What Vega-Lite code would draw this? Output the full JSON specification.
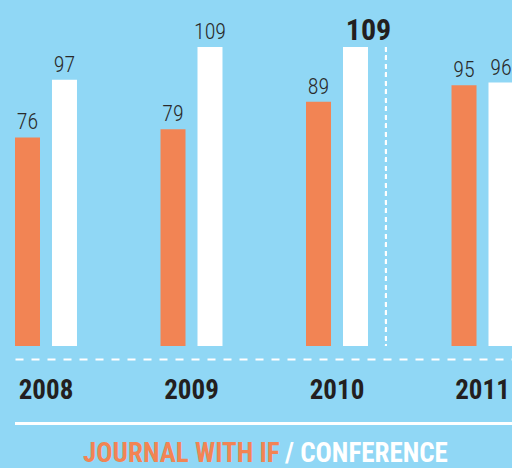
{
  "$schema": "https://vega.github.io/schema/vega-lite/v6.json",
  "width": 512,
  "height": 346,
  "autosize": "none",
  "padding": {"left": 0, "top": 0, "right": 0, "bottom": 122},
  "background": "#90d7f5",
  "config": {"view": {"stroke": null}, "font": "'Roboto Condensed', 'DejaVu Sans Condensed', sans-serif"},
  "data": {
    "values": [
      {"year": "2008", "type": "JOURNAL WITH IF", "value": 76},
      {"year": "2008", "type": "CONFERENCE", "value": 97},
      {"year": "2009", "type": "JOURNAL WITH IF", "value": 79},
      {"year": "2009", "type": "CONFERENCE", "value": 109},
      {"year": "2010", "type": "JOURNAL WITH IF", "value": 89},
      {"year": "2010", "type": "CONFERENCE", "value": 109},
      {"year": "2011", "type": "JOURNAL WITH IF", "value": 95},
      {"year": "2011", "type": "CONFERENCE", "value": 96}
    ]
  },
  "encoding": {
    "x": {
      "field": "year",
      "type": "ordinal",
      "scale": {"range": [15, 513.5], "paddingInner": 0.574, "paddingOuter": 0},
      "axis": {
        "title": null,
        "orient": "bottom",
        "offset": 13,
        "domainColor": "#ffffff",
        "domainDash": [8, 8],
        "domainWidth": 2,
        "ticks": false,
        "tickSize": 0,
        "labelPadding": 18,
        "labelAngle": 0,
        "labelFont": "'Roboto Condensed', 'DejaVu Sans Condensed', sans-serif",
        "labelFontSize": 27,
        "labelFontWeight": "bold",
        "labelColor": "#231f20"
      }
    }
  },
  "layer": [
    {
      "mark": {"type": "bar"},
      "encoding": {
        "xOffset": {
          "field": "type",
          "type": "nominal",
          "sort": ["JOURNAL WITH IF", "CONFERENCE"],
          "scale": {"paddingInner": 0.324, "paddingOuter": 0}
        },
        "y": {
          "field": "value",
          "type": "quantitative",
          "scale": {"domain": [0, 126.1], "nice": false, "zero": true},
          "axis": null
        },
        "color": {
          "field": "type",
          "type": "nominal",
          "sort": ["JOURNAL WITH IF", "CONFERENCE"],
          "scale": {"domain": ["JOURNAL WITH IF", "CONFERENCE"], "range": ["#f28454", "#ffffff"]},
          "legend": {
            "title": null,
            "orient": "none",
            "direction": "horizontal",
            "legendX": 56,
            "legendY": 427,
            "symbolSize": 0,
            "symbolOpacity": 0,
            "symbolStrokeWidth": 0,
            "labelOffset": 0,
            "gridAlign": "none",
            "columnPadding": -22,
            "labelFont": "'Roboto Condensed', 'DejaVu Sans Condensed', sans-serif",
            "labelFontSize": 27,
            "labelFontWeight": "bold",
            "labelBaseline": "top",
            "labelLimit": 400,
            "labelExpr": "datum.value === 'CONFERENCE' ? '/ CONFERENCE' : datum.label",
            "encode": {
              "labels": {
                "update": {
                  "fill": [
                    {"test": "datum.value === 'JOURNAL WITH IF'", "value": "#f28454"},
                    {"value": "#ffffff"}
                  ]
                }
              }
            }
          }
        }
      }
    },
    {
      "transform": [{"filter": "!(datum.year === '2010' && datum.type === 'CONFERENCE')"}],
      "mark": {"type": "text", "baseline": "alphabetic", "dy": -8, "fontSize": 22, "fontWeight": 300, "color": "#2a2a2a", "font": "'Roboto Condensed', 'DejaVu Sans Condensed', sans-serif"},
      "encoding": {
        "xOffset": {"field": "type", "type": "nominal", "sort": ["JOURNAL WITH IF", "CONFERENCE"]},
        "y": {"field": "value", "type": "quantitative"},
        "text": {"field": "value", "type": "quantitative"}
      }
    },
    {
      "transform": [{"filter": "datum.year === '2010' && datum.type === 'CONFERENCE'"}],
      "mark": {"type": "text", "baseline": "alphabetic", "dy": -7, "dx": 13, "fontSize": 30, "fontWeight": "bold", "color": "#231f20", "font": "'Roboto Condensed', 'DejaVu Sans Condensed', sans-serif"},
      "encoding": {
        "xOffset": {"field": "type", "type": "nominal", "sort": ["JOURNAL WITH IF", "CONFERENCE"]},
        "y": {"field": "value", "type": "quantitative"},
        "text": {"field": "value", "type": "quantitative"}
      }
    },
    {
      "mark": {"type": "rule", "color": "#ffffff", "strokeWidth": 2, "strokeDash": [4.5, 4]},
      "encoding": {
        "x": {"datum": "2010", "bandPosition": 1.29},
        "y": {"datum": 109},
        "y2": {"datum": 0}
      }
    },
    {
      "mark": {"type": "rule", "color": "#ffffff", "strokeWidth": 2},
      "encoding": {
        "x": {"datum": "2008", "bandPosition": 0},
        "x2": {"datum": "2011", "bandPosition": 1},
        "y": {"datum": -28.2}
      }
    }
  ]
}
